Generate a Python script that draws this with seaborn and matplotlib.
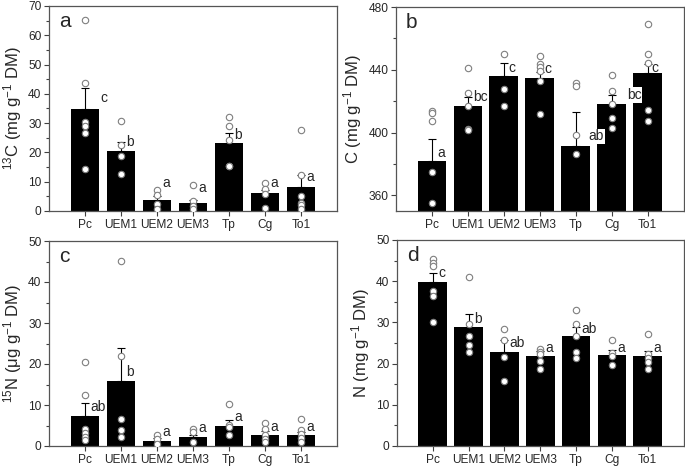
import pandas as pd
import seaborn as sns
import numpy as np
import matplotlib.pyplot as plt
from matplotlib.ticker import MultipleLocator

species = ['Pc', 'UEM1', 'UEM2', 'UEM3', 'Tp', 'Cg', 'To1']

# panel a: 13C (mg g-1 DM)
c13_mean = [34.9, 20.6, 3.75, 2.7, 23.2, 6.0, 8.3]
c13_se = [7.0, 3.1, 1.3, 1.0, 3.4, 1.3, 4.1]
c13_pts = [[65.2, 43.6, 30.5, 28.9, 26.8, 14.2],
           [30.9, 22.4, 18.9, 12.5],
           [7.0, 5.5, 2.5, 0.7],
           [8.9, 3.3, 1.6, 0.7],
           [32.0, 28.9, 24.1, 15.5, 15.2],
           [9.4, 7.6, 5.8, 1.1],
           [27.8, 12.2, 5.1, 2.8, 1.9, 0.7]]
c13_letters = ['c', 'b', 'a', 'a', 'b', 'a', 'a']
c13_letter_y = [38.5, 23.7, 9.5, 8.0, 26.0, 9.5, 11.5]
c13_letter_dx = [0.42, 0.15, 0.15, 0.15, 0.15, 0.15, 0.15]

# panel b: C (mg g-1 DM)
c_mean = [381.6, 417.1, 435.8, 434.9, 391.7, 418.4, 438.1]
c_se = [14.6, 5.3, 8.6, 3.8, 21.4, 5.5, 5.5]
c_pts = [[414.0, 412.7, 407.6, 374.8, 355.1],
         [441.3, 425.2, 417.1, 402.1, 401.3],
         [450.0, 427.5, 416.9],
         [448.9, 443.4, 441.9, 438.9, 433.0, 411.6],
         [431.3, 429.6, 398.5, 386.5],
         [436.8, 426.7, 418.0, 409.3, 403.0],
         [469.0, 450.0, 444.4, 414.2, 407.6]]
c_letters = ['a', 'bc', 'c', 'c', 'ab', 'bc', 'c']
c_letter_y = [386.9, 422.4, 441.3, 440.6, 397.5, 423.9, 441.0]
c_letter_dx = [0.15, 0.15, 0.13, 0.12, 0.36, 0.42, 0.12]
# letters drawn on a white patch where they run over a neighbouring bar
c_letter_box = [False, False, False, False, True, True, False]

# panel c: 15N (ug g-1 DM)
n15_mean = [7.4, 15.9, 1.3, 2.1, 5.0, 2.6, 2.6]
n15_se = [3.0, 8.1, 0.6, 0.7, 1.3, 1.1, 0.9]
n15_pts = [[20.5, 12.4, 4.1, 3.2, 2.1, 1.5],
           [45.1, 22.0, 6.7, 3.9, 2.3],
           [2.8, 1.6, 0.6],
           [4.1, 3.4, 1.0],
           [10.3, 5.2, 4.6, 2.6],
           [5.5, 4.1, 2.7, 1.8, 1.0],
           [6.5, 3.9, 2.9, 1.9, 0.9]]
n15_letters = ['ab', 'b', 'a', 'a', 'a', 'a', 'a']
n15_letter_y = [9.6, 18.0, 3.3, 4.3, 7.0, 4.7, 4.7]
n15_letter_dx = [0.15, 0.15, 0.16, 0.16, 0.16, 0.16, 0.14]

# panel d: N (mg g-1 DM)
n_mean = [39.8, 28.9, 22.9, 21.8, 26.7, 22.0, 21.9]
n_se = [2.2, 3.2, 2.9, 1.2, 2.1, 1.2, 1.1]
n_pts = [[45.3, 44.5, 43.7, 37.6, 36.4, 30.1],
         [41.0, 29.6, 26.6, 24.4, 22.8],
         [28.4, 25.8, 21.6, 15.7],
         [23.5, 22.9, 22.4, 20.6, 18.8],
         [32.9, 29.7, 26.7, 22.9, 21.4],
         [25.8, 22.6, 21.8, 19.6],
         [27.1, 22.4, 21.3, 20.3, 18.8]]
n_letters = ['c', 'b', 'ab', 'a', 'ab', 'a', 'a']
n_letter_y = [42.0, 30.9, 25.0, 23.7, 28.5, 23.8, 23.8]
n_letter_dx = [0.15, 0.15, 0.13, 0.15, 0.15, 0.15, 0.15]


def draw_panel(ax, mean, se, pts, letters, letter_y, letter_dx, ylim, major, ylabel, tag,
               letter_box=None):
    bars = pd.DataFrame({'species': species, 'value': mean})
    sns.barplot(data=bars, x='species', y='value', order=species, color='black',
                saturation=1, width=0.8, errorbar=None, ax=ax, zorder=2,
                edgecolor='black', linewidth=0)
    ax.errorbar(np.arange(len(species)), mean, yerr=[np.zeros(len(se)), se],
                fmt='none', ecolor='black', elinewidth=0.8, capsize=3,
                capthick=0.8, zorder=3)
    rows = []
    for sp, vals in zip(species, pts):
        for v in vals:
            rows.append({'species': sp, 'value': v})
    pdf = pd.DataFrame(rows)
    sns.stripplot(data=pdf, x='species', y='value', order=species, jitter=False,
                  color='white', edgecolor='#7f7f7f', linewidth=0.8, size=4.6,
                  ax=ax, zorder=4)
    if letter_box is None:
        letter_box = [False] * len(letters)
    for i, (lab, ly, dx, box) in enumerate(zip(letters, letter_y, letter_dx, letter_box)):
        bbox = dict(fc='white', ec='none', pad=0.5) if box else None
        ax.text(i + dx, ly, lab, ha='left', va='center', fontsize=10, zorder=5,
                bbox=bbox)
    ax.set_xlim(-1, 7)
    ax.set_ylim(*ylim)
    ax.yaxis.set_major_locator(MultipleLocator(major))
    ax.yaxis.set_minor_locator(MultipleLocator(major / 2))
    ax.set_xlabel('')
    ax.set_ylabel(ylabel, fontsize=12, labelpad=3)
    ax.tick_params(axis='both', which='major', direction='out', length=3.5,
                   width=0.8, labelsize=8.6, color='#404040', pad=2)
    ax.tick_params(axis='y', which='minor', direction='out', length=2,
                   width=0.8, color='#404040')
    ax.tick_params(axis='x', which='minor', bottom=False)
    for sp in ax.spines.values():
        sp.set_color('#555555')
        sp.set_linewidth(0.9)
    ax.text(0.035, 0.97, tag, transform=ax.transAxes, ha='left', va='top',
            fontsize=15)


sns.set_theme(style='ticks')
plt.rcParams['font.family'] = ['Liberation Sans', 'DejaVu Sans']
plt.rcParams['mathtext.fontset'] = 'custom'
plt.rcParams['mathtext.rm'] = 'Liberation Sans'
plt.rcParams['mathtext.it'] = 'Liberation Sans'

fig = plt.figure(figsize=(6.85, 4.66), dpi=100)
ax_a = fig.add_axes([49 / 685, 1 - 211 / 466, 288 / 685, 205 / 466])
ax_b = fig.add_axes([396 / 685, 1 - 211 / 466, 287.5 / 685, 204 / 466])
ax_c = fig.add_axes([49 / 685, 1 - 446 / 466, 288 / 685, 205 / 466])
ax_d = fig.add_axes([397 / 685, 1 - 446 / 466, 286.5 / 685, 206 / 466])

draw_panel(ax_a, c13_mean, c13_se, c13_pts, c13_letters, c13_letter_y, c13_letter_dx,
           (0, 70), 10, r'$^{13}$C (mg g$^{-1}$ DM)', 'a')
draw_panel(ax_b, c_mean, c_se, c_pts, c_letters, c_letter_y, c_letter_dx,
           (350, 480), 40, r'C (mg g$^{-1}$ DM)', 'b', letter_box=c_letter_box)
draw_panel(ax_c, n15_mean, n15_se, n15_pts, n15_letters, n15_letter_y, n15_letter_dx,
           (0, 50), 10, r'$^{15}$N ($\mu$g g$^{-1}$ DM)', 'c')
draw_panel(ax_d, n_mean, n_se, n_pts, n_letters, n_letter_y, n_letter_dx,
           (0, 50), 10, r'N (mg g$^{-1}$ DM)', 'd')

fig.savefig('out.png', dpi=100)
